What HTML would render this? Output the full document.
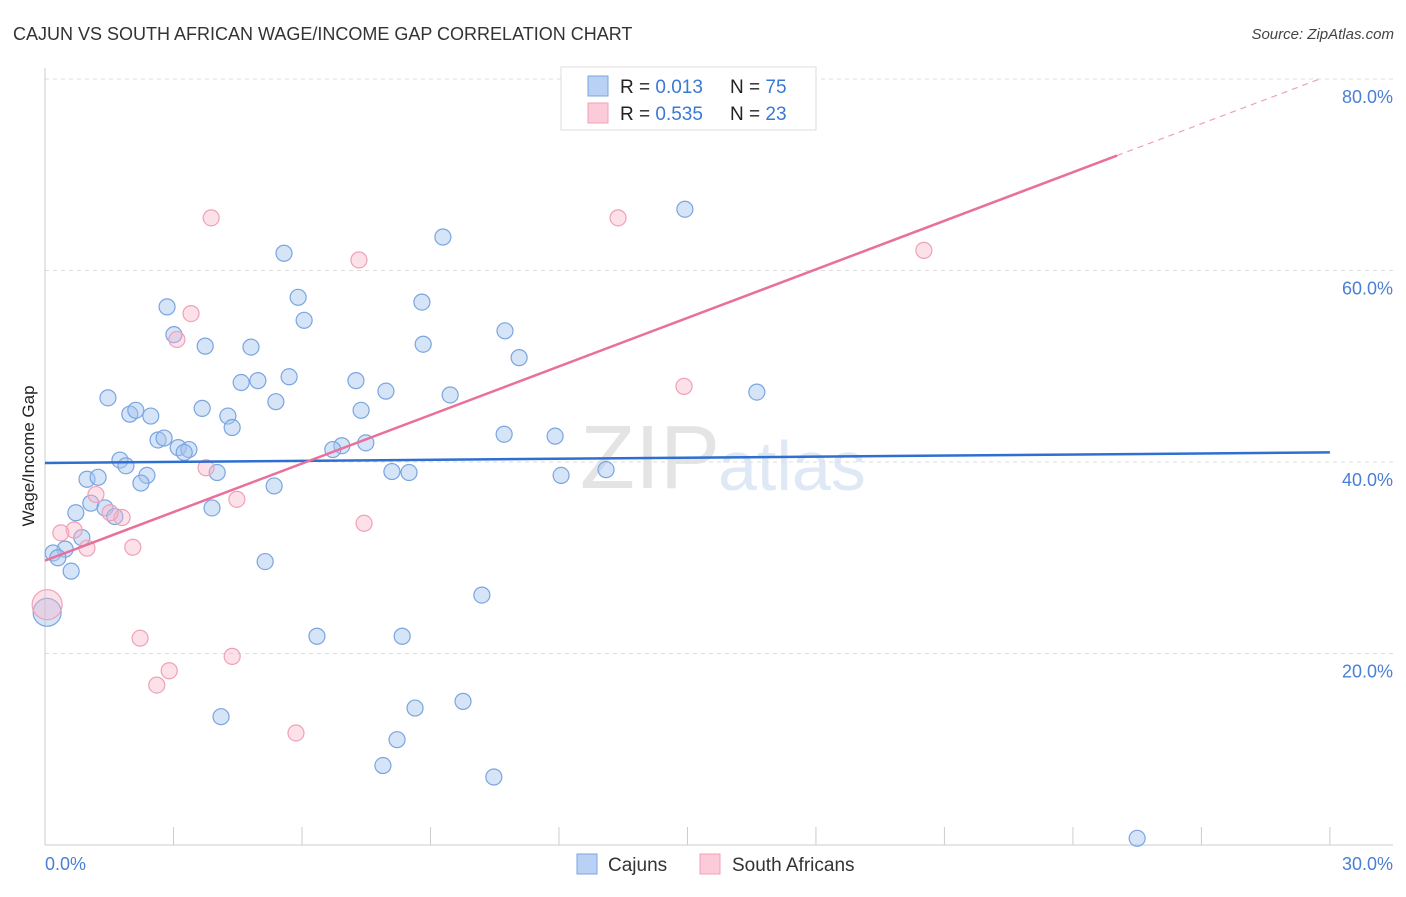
<!DOCTYPE html>
<html><head><meta charset="utf-8"><style>
body{margin:0;background:#fff;font-family:"Liberation Sans",sans-serif}
svg text{font-family:"Liberation Sans",sans-serif}
</style></head><body>
<svg id="chart" width="1406" height="892" xmlns="http://www.w3.org/2000/svg">
<text x="13" y="40" font-size="18" fill="#333">CAJUN VS SOUTH AFRICAN WAGE/INCOME GAP CORRELATION CHART</text>
<text x="1394" y="39" font-size="15" fill="#444" text-anchor="end" font-style="italic">Source: ZipAtlas.com</text>
<text x="720" y="488" font-size="90" fill="#e4e4e4" text-anchor="end" font-family="Liberation Serif">ZIP</text>
<text x="718" y="490" font-size="70" fill="#dfe8f5">atlas</text>
<g id="grid"></g>
<g id="axes"></g>
<g id="marks"></g>
<text transform="translate(34,456) rotate(-90)" font-size="17" fill="#222" text-anchor="middle">Wage/Income Gap</text>
<g>
<rect x="561" y="67" width="255" height="63" fill="#fff" stroke="#ddd"/>
<rect x="588" y="76" width="20" height="20" fill="#b9d1f4" stroke="#7aa5e0"/>
<text x="620" y="93" font-size="19" fill="#222">R = <tspan fill="#3a78d6">0.013</tspan></text>
<text x="730" y="93" font-size="19" fill="#222">N = <tspan fill="#3a78d6">75</tspan></text>
<rect x="588" y="103" width="20" height="20" fill="#fbcbd9" stroke="#f0a0b8"/>
<text x="620" y="120" font-size="19" fill="#222">R = <tspan fill="#3a78d6">0.535</tspan></text>
<text x="730" y="120" font-size="19" fill="#222">N = <tspan fill="#3a78d6">23</tspan></text>
</g>
<g>
<rect x="577" y="854" width="20" height="20" fill="#b9d1f4" stroke="#7aa5e0"/>
<text x="608" y="871" font-size="19" fill="#333">Cajuns</text>
<rect x="700" y="854" width="20" height="20" fill="#fbcbd9" stroke="#f0a0b8"/>
<text x="732" y="871" font-size="19" fill="#333">South Africans</text>
</g>
</svg>
<script>
const cajunX=[17.63,14.94,9.29,5.58,5.91,8.80,2.85,6.05,10.74,3.01,3.74,4.81,8.83,11.07,5.70,7.26,4.97,4.58,7.96,9.46,16.62,1.47,5.39,3.67,7.38,1.98,2.12,2.47,4.27,4.37,10.72,11.91,2.64,2.78,3.11,3.36,3.25,7.49,6.93,6.72,1.75,1.89,2.38,4.02,8.10,8.50,12.05,13.10,0.98,1.24,2.24,5.35,1.07,1.40,3.90,1.63,0.72,0.86,0.47,0.19,0.30,5.14,0.61,10.20,6.35,8.34,9.76,8.64,4.11,8.22,7.89,10.48,25.50];
const cajunY=[79.9,66.4,63.5,61.8,57.2,56.7,56.2,54.8,53.7,53.3,52.1,52.0,52.3,50.9,48.9,48.5,48.5,48.3,47.4,47.0,47.3,46.7,46.3,45.6,45.4,45.0,45.4,44.8,44.8,43.6,42.9,42.7,42.3,42.5,41.5,41.3,41.0,42.0,41.7,41.3,40.2,39.6,38.6,38.9,39.0,38.9,38.6,39.2,38.2,38.4,37.8,37.5,35.7,35.2,35.2,34.3,34.7,32.1,30.9,30.5,30.0,29.6,28.6,26.1,21.8,21.8,15.0,14.3,13.4,11.0,8.3,7.1,0.7];
const cajunBigX=[0.05], cajunBigY=[24.3];
const saX=[3.88,13.38,20.52,7.33,3.41,3.08,14.92,3.76,1.19,4.48,1.80,1.52,7.45,0.68,0.37,0.98,2.05,2.22,4.37,2.90,2.61,5.86];
const saY=[65.5,65.5,62.1,61.1,55.5,52.8,47.9,39.4,36.6,36.1,34.2,34.7,33.6,32.9,32.6,31.0,31.1,21.6,19.7,18.2,16.7,11.7];
const saBigX=[0.05], saBigY=[25.1];
const cajunTrend=[39.9,41.0];
const saTrend=[29.7,1.69];
const yTicks=[20,40,60,80];
const yTickLabels=["20.0%","40.0%","60.0%","80.0%"];
const xTicks=[0,3,6,9,12,15,18,21,24,27,30];
const NS="http://www.w3.org/2000/svg";
const sx=v=>45+v*42.83, sy=v=>845-v*9.575;
function mk(tag,attrs,parent){const e=document.createElementNS(NS,tag);for(const k in attrs)e.setAttribute(k,attrs[k]);document.getElementById(parent).appendChild(e);return e;}
yTicks.forEach((t,i)=>{
 const g=mk('line',{x1:45,x2:1393,y1:sy(t),y2:sy(t),stroke:'#ddd','stroke-dasharray':'4,4'},'grid');
 
 
 const l=mk('text',{x:1393,y:sy(t)+24,'font-size':18,fill:'#4a7fd4','text-anchor':'end'},'axes');
 l.textContent=yTickLabels[i];
 
 
});
const ax=mk('line',{x1:45,x2:45,y1:68,y2:845,stroke:'#ccc'},'axes');


const bx=mk('line',{x1:45,x2:1393,y1:845,y2:845,stroke:'#ccc'},'axes');


xTicks.forEach(t=>{
 const tk=mk('line',{x1:sx(t),x2:sx(t),y1:827,y2:845,stroke:'#ccc'},'axes');
 
 
});
const x0=mk('text',{x:45,y:870,'font-size':18,fill:'#4a7fd4'},'axes');x0.textContent='0.0%';


const x1=mk('text',{x:1393,y:870,'font-size':18,fill:'#4a7fd4','text-anchor':'end'},'axes');x1.textContent='30.0%';


function dots(xs,ys,r,fill,stroke,name){xs.forEach((x,i)=>{
 const c=mk('circle',{cx:sx(x),cy:sy(ys[i]),r:r,fill:fill,stroke:stroke,'stroke-width':1.2},'marks');
 
 
});}
dots(cajunX,cajunY,8,'rgba(164,196,240,0.45)','#7aa5e0','cajun-point');
dots(cajunBigX,cajunBigY,14,'rgba(164,196,240,0.45)','#7aa5e0','cajun-point');
dots(saX,saY,8,'rgba(248,180,200,0.4)','#f0a0b8','south-african-point');
dots(saBigX,saBigY,15,'rgba(248,180,200,0.4)','#f0a0b8','south-african-point');
const bl=mk('line',{x1:sx(0),y1:sy(cajunTrend[0]),x2:sx(30),y2:sy(cajunTrend[1]),stroke:'#2f6fd0','stroke-width':2.5},'marks');


const xe=25.03, xd=(80-saTrend[0])/saTrend[1];
const pl=mk('line',{x1:sx(0),y1:sy(saTrend[0]),x2:sx(xe),y2:sy(saTrend[0]+saTrend[1]*xe),stroke:'#e8709a','stroke-width':2.5},'marks');


const pd=mk('line',{x1:sx(xe),y1:sy(saTrend[0]+saTrend[1]*xe),x2:sx(xd),y2:sy(80),stroke:'#f0a0b8','stroke-width':1.2,'stroke-dasharray':'6,5'},'marks');


</script>
</body></html>
